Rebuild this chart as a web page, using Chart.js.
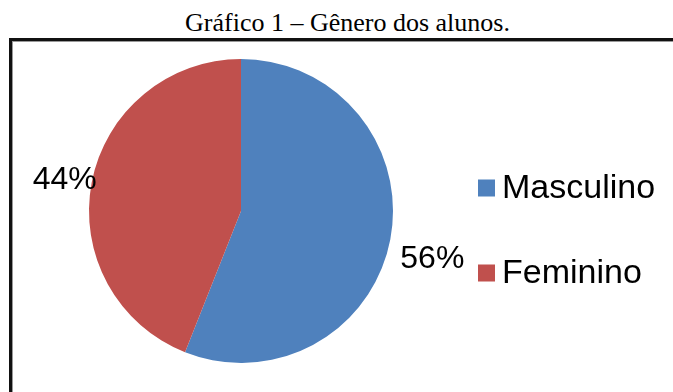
<!DOCTYPE html>
<html>
<head>
<meta charset="utf-8">
<script src="https://cdn.jsdelivr.net/npm/chart.js@4.4.0/dist/chart.umd.min.js"></script>
<style>
  body { margin: 0; background: #fff; width: 673px; height: 392px; overflow: hidden; position: relative; }
  #title {
    position: absolute; left: 0; top: 8px; width: 673px; padding-left: 22px; box-sizing: border-box;
    text-align: center; font-family: "Liberation Serif", "Times New Roman", serif; font-size: 26px; color: #000;
  }
  #frame {
    position: absolute; left: 9px; top: 38px; width: 680px; height: 400px;
    border-left: 3px solid #111; border-top: 3px solid #111;
    box-shadow: inset 1px 1px 0 #999;
  }
  #chart { position: absolute; left: 0; top: 0; }
</style>
</head>
<body>
<div id="title">Gráfico 1 – Gênero dos alunos.</div>
<div id="frame"></div>
<canvas id="chart" width="673" height="392"></canvas>
<script>
var categories = ['Masculino', 'Feminino']
var percentages = [56, 44]
var colors = ['#4F81BD', '#C0504D']

// percentage text beside each slice, plus the legend on the right
var sliceLabels = {
  id: 'sliceLabels',
  afterDatasetsDraw: function(chart, args, opts) {
    var ctx = chart.ctx
    var meta = chart.getDatasetMeta(0)
    ctx.save()
    ctx.fillStyle = '#000'
    ctx.textBaseline = 'middle'
    ctx.font = '32px "Liberation Sans", Arial, sans-serif'
    meta.data.forEach(function(arc, i) {
      var p = arc.getProps(['x', 'y', 'startAngle', 'endAngle', 'outerRadius'], true)
      var mid = (p.startAngle + p.endAngle) / 2
      var ex = p.x + Math.cos(mid) * p.outerRadius
      var ey = p.y + Math.sin(mid) * p.outerRadius
      var nudge = opts.nudge[i]
      ctx.textAlign = Math.cos(mid) >= 0 ? 'left' : 'right'
      ctx.fillText(chart.data.datasets[0].data[i] + '%', ex + nudge[0], ey + nudge[1])
    })

    // legend
    var lx = chart.chartArea.right + 85
    ctx.textAlign = 'left'
    ctx.font = '34px "Liberation Sans", Arial, sans-serif'
    chart.data.labels.forEach(function(lab, i) {
      var cy = opts.legendTop + i * opts.legendGap
      ctx.fillStyle = colors[i]
      ctx.fillRect(lx, cy - 8.5, 17, 17)
      ctx.fillStyle = '#000'
      ctx.fillText(lab, lx + 24, cy + 1)
    })
    ctx.restore()
  }
}

var chart = new Chart(document.getElementById('chart').getContext('2d'), {
  type: 'pie',
  data: {
    labels: categories,
    datasets: [{
      data: percentages,
      backgroundColor: colors,
      borderWidth: 0
    }]
  },
  options: {
    responsive: false,
    animation: false,
    layout: { padding: { left: 89, right: 280, top: 59, bottom: 29 } },
    plugins: {
      legend: { display: false },
      tooltip: { enabled: false },
      sliceLabels: { nudge: [[10, 20], [5, -2]], legendTop: 188, legendGap: 85 }
    }
  },
  plugins: [sliceLabels]
})
</script>
</body>
</html>
